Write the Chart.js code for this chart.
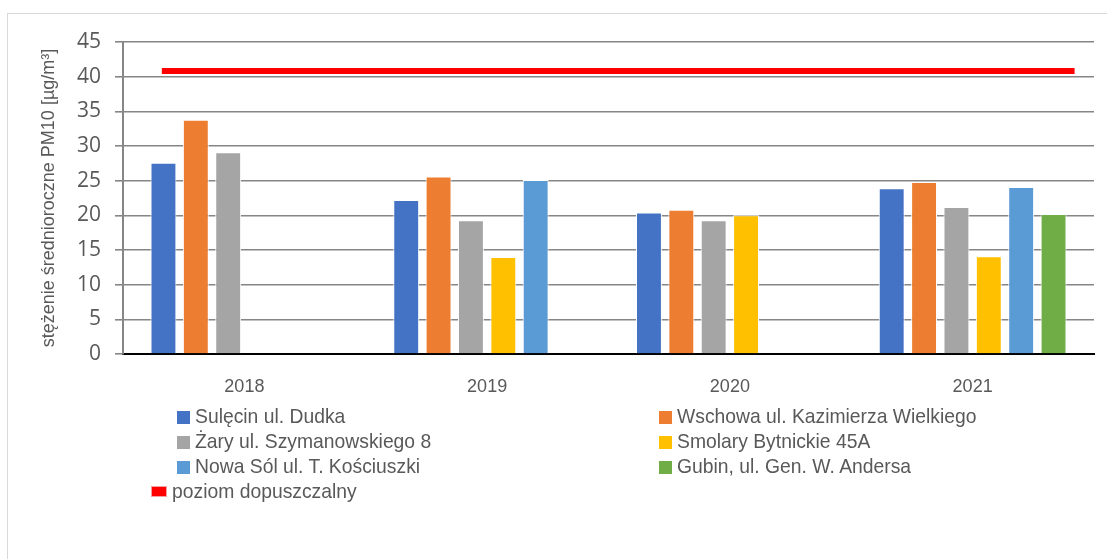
<!DOCTYPE html>
<html>
<head>
<meta charset="utf-8">
<script src="https://cdn.jsdelivr.net/npm/chart.js@4"></script>
<style>
    body { margin: 0; background: #fff; overflow: hidden; }
    #wrap { position: relative; width: 1107px; height: 559px; }
    #frame { position: absolute; left: 7px; top: 13px; width: 1200px; height: 700px; border: 1px solid #d9d9d9; }
    #chart { position: absolute; left: 0; top: 0; }
    .legend { position: absolute; left: 0; top: 0; font-family: 'Liberation Sans Narrow', 'Liberation Sans', sans-serif; font-size: 21px; color: #595959; }
    .item { position: absolute; white-space: nowrap; line-height: 24px; }
    .txt { display: inline-block; transform: scaleX(0.92); transform-origin: left center; }
    .box { display: inline-block; width: 13px; height: 13px; margin-right: 5px; vertical-align: -1px; }
</style>
</head>
<body>
<div id="wrap">
    <div id="frame"></div>
    <canvas id="chart" width="1107" height="559"></canvas>
    <div class="legend" id="legend"></div>
</div>
<script>
// years on the x axis
const years = ['2018', '2019', '2020', '2021'];

// annual mean PM10 per station, µg/m3
const sulecin = [27.6, 22.2, 20.4, 23.9];
const wschowa = [33.8, 25.6, 20.8, 24.8];
const zary = [29.1, 19.3, 19.3, 21.2];
const smolary = [null, 14.0, 20.0, 14.1];
const nowaSol = [null, 25.1, null, 24.1];
const gubin = [null, null, null, 20.2];

const stationNames = [
    'Sulęcin ul. Dudka',
    'Wschowa ul. Kazimierza Wielkiego',
    'Żary ul. Szymanowskiego 8',
    'Smolary Bytnickie 45A',
    'Nowa Sól ul. T. Kościuszki',
    'Gubin, ul. Gen. W. Andersa'
];
const stationColors = ['#4472C4', '#ED7D31', '#A5A5A5', '#FFC000', '#5B9BD5', '#70AD47'];

// limit line ("poziom dopuszczalny"), drawn across the groups
const limitName = 'poziom dopuszczalny';
const limitValue = [40.8, 40.8];
const limitSpan = [-0.34, 3.42]; // in category index units

const yTicks = [0, 5, 10, 15, 20, 25, 30, 35, 40, 45];

const series = [sulecin, wschowa, zary, smolary, nowaSol, gubin];

const datasets = series.map((values, i) => ({
    label: stationNames[i],
    data: values,
    backgroundColor: stationColors[i],
    borderColor: '#ffffff',
    borderWidth: 1
}));

// already in index units, so the category scale places it directly
datasets.push({
    type: 'line',
    label: limitName,
    parsing: false,
    data: limitSpan.map((x, i) => ({ x: x, y: limitValue[i] })),
    borderColor: '#FF0000',
    borderWidth: 6,
    borderCapStyle: 'butt',
    pointRadius: 0
});

const narrowFont = "'Liberation Sans Narrow', 'Liberation Sans', sans-serif";

// value axis line, the built-in border did not show up here
const axisLine = {
    id: 'axisLine',
    beforeDatasetsDraw(chart) {
        const { ctx, scales: { y } } = chart;
        const x = chart.chartArea.left;
        ctx.save();
        ctx.strokeStyle = '#868686';
        ctx.lineWidth = 2;
        ctx.beginPath();
        ctx.moveTo(x, y.top);
        ctx.lineTo(x, y.bottom);
        ctx.stroke();
        ctx.restore();
    }
};

new Chart(document.getElementById('chart'), {
    type: 'bar',
    data: { labels: years, datasets: datasets },
    plugins: [axisLine],
    options: {
        responsive: false,
        animation: false,
        layout: { padding: { left: 0, right: 13, top: 42, bottom: 0 } },
        datasets: {
            bar: { categoryPercentage: 0.8, barPercentage: 0.8 }
        },
        plugins: {
            legend: { display: false },
            tooltip: { enabled: false }
        },
        scales: {
            x: {
                grid: { display: false, drawTicks: false },
                border: { color: '#000000', width: 2 },
                ticks: {
                    color: '#595959',
                    padding: 22,
                    font: { family: narrowFont, size: 18 }
                },
                afterFit: scale => { scale.height = 205; }
            },
            y: {
                min: 0,
                max: 45,
                afterBuildTicks: scale => { scale.ticks = yTicks.map(v => ({ value: v })); },
                grid: { color: '#868686', lineWidth: 1.6, tickLength: 8 },
                border: { display: true, color: '#868686', width: 2 },
                ticks: { color: '#595959', padding: 14, font: { family: "'Open Sans', 'Liberation Sans', sans-serif", size: 21 } },
                title: {
                    display: true,
                    text: 'stężenie średnioroczne PM10 [µg/m³]',
                    color: '#595959',
                    padding: { top: 38 },
                    font: { family: narrowFont, size: 18 }
                },
                afterFit: scale => { scale.width = 123; }
            }
        }
    }
});

// legend in two columns, like the original
const legendPos = [
    [177, 404], [659, 404],
    [177, 429], [659, 429],
    [177, 454], [659, 454]
];
const legend = document.getElementById('legend');
stationNames.forEach((name, i) => {
    const el = document.createElement('div');
    el.className = 'item';
    el.style.left = legendPos[i][0] + 'px';
    el.style.top = legendPos[i][1] + 'px';
    el.innerHTML = `<span class="box" style="background:${stationColors[i]}"></span><span class="txt">${name}</span>`;
    legend.appendChild(el);
});
const limitItem = document.createElement('div');
limitItem.className = 'item';
limitItem.style.left = '151px';
limitItem.style.top = '479px';
limitItem.innerHTML = `<span class="box" style="background:#FF0000;width:14px;height:9px;vertical-align:1px;border:1px solid #f4a0a0"></span><span class="txt">${limitName}</span>`;
legend.appendChild(limitItem);
</script>
</body>
</html>
